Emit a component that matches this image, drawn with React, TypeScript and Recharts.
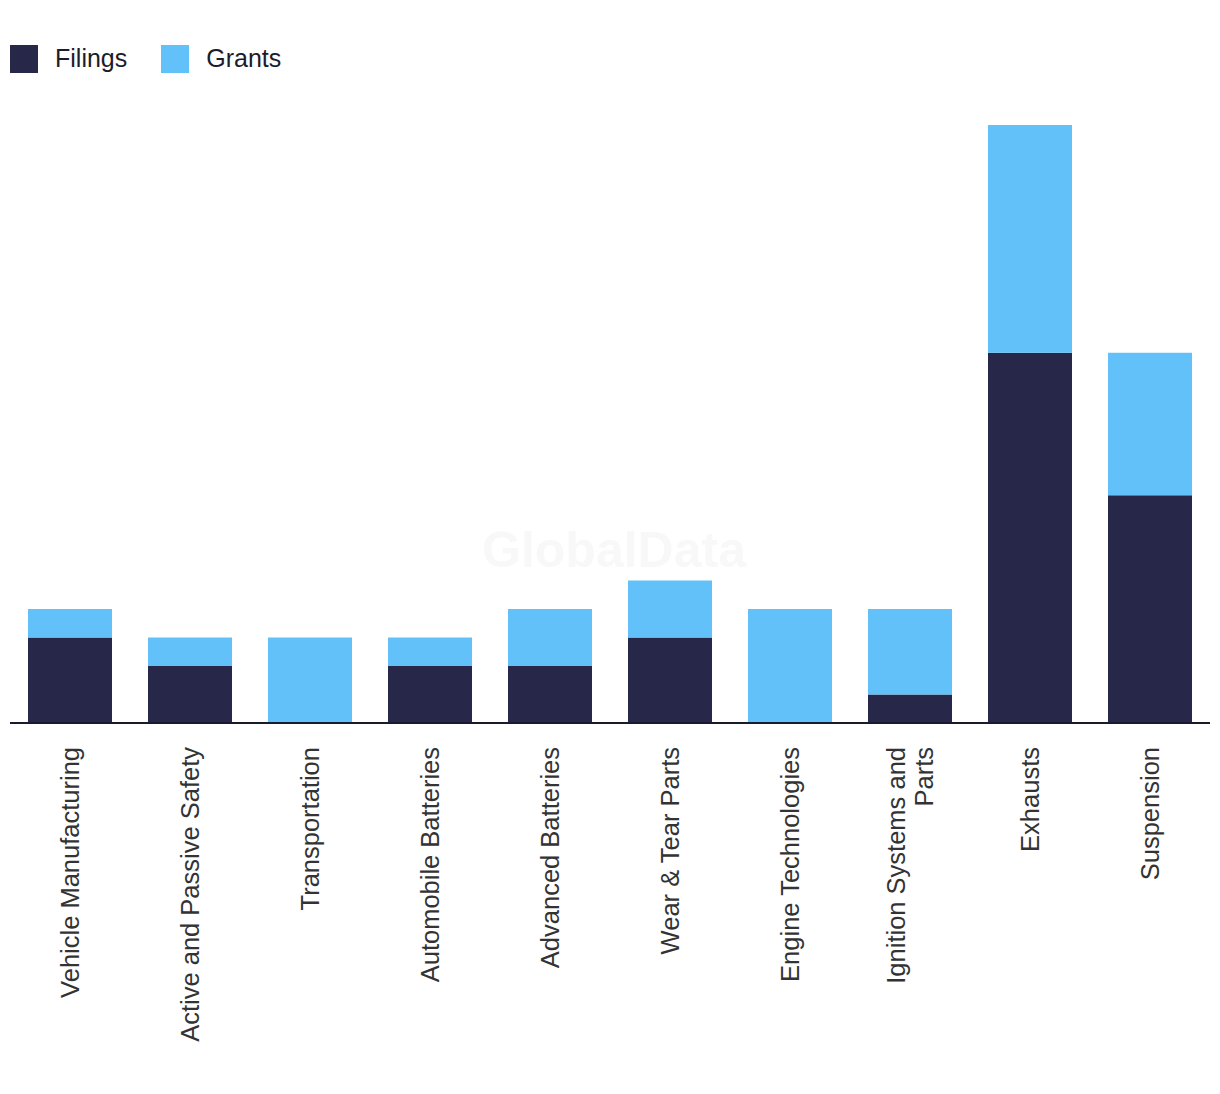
import React from "react";
import { BarChart, Bar, XAxis, YAxis, Legend } from "recharts";

const categories = [
  "Vehicle Manufacturing",
  "Active and Passive Safety",
  "Transportation",
  "Automobile Batteries",
  "Advanced Batteries",
  "Wear & Tear Parts",
  "Engine Technologies",
  "Ignition Systems and Parts",
  "Exhausts",
  "Suspension",
];
const filings = [3, 2, 0, 2, 2, 3, 0, 1, 13, 8];
const grants = [1, 1, 3, 1, 2, 2, 4, 3, 8, 5];

const FILINGS_COLOR = "#272849";
const GRANTS_COLOR = "#62C1F8";

const data = categories.map((c, i) => ({ name: c, filings: filings[i], grants: grants[i] }));

function wrap(label: string): string[] {
  if (label.length <= 25) return [label];
  const words = label.split(" ");
  const lines: string[] = [];
  let cur = "";
  for (const w of words) {
    const next = cur ? cur + " " + w : w;
    if (next.length > 21 && cur) {
      lines.push(cur);
      cur = w;
    } else cur = next;
  }
  if (cur) lines.push(cur);
  return lines;
}

const Tick = (props: any) => {
  const { x, payload } = props;
  const lines = wrap(String(payload.value));
  const lh = 28;
  const ty = 739;
  return (
    <g>
      {lines.map((l, i) => {
        const off = (i - (lines.length - 1) / 2) * lh;
        return (
          <text
            key={i}
            x={x}
            y={ty}
            transform={`rotate(-90, ${x}, ${ty})`}
            textAnchor="end"
            dy={off + 9}
            fill="#333333"
            fontSize={25.5}
            fontFamily="'Liberation Sans', Arial, sans-serif"
          >
            {l}
          </text>
        );
      })}
    </g>
  );
};

const LegendContent = () => (
  <div style={{ display: "flex", alignItems: "center", fontFamily: "'Liberation Sans', Arial, sans-serif", fontSize: 25, color: "#1c1c2c" }}>
    <span style={{ display: "inline-block", width: 28, height: 28, background: FILINGS_COLOR }} />
    <span style={{ marginLeft: 17, marginRight: 34 }}>Filings</span>
    <span style={{ display: "inline-block", width: 28, height: 28, background: GRANTS_COLOR }} />
    <span style={{ marginLeft: 17 }}>Grants</span>
  </div>
);

export default function App() {
  return (
    <div style={{ position: "relative", width: 1212, height: 1086 }}>
      <div
        style={{
          position: "absolute",
          left: 0,
          width: 1212,
          top: 513,
          textAlign: "center",
          fontFamily: "'Liberation Sans', Arial, sans-serif",
          fontWeight: 700,
          fontSize: 50,
          color: "#f8f8f8",
        }}
      >
        GlobalData
      </div>
      <BarChart
        width={1212}
        height={1086}
        data={data}
        margin={{ top: 88, right: 10, left: 2, bottom: 0 }}
        barCategoryGap="15%"
        style={{ position: "relative" }}
      >
        <XAxis
          dataKey="name"
          interval={0}
          tickLine={false}
          axisLine={{ stroke: "#1a1a2e", strokeWidth: 2 }}
          tick={<Tick />}
          height={371}
        />
        <YAxis hide domain={[0, 21]} />
        <Legend
          verticalAlign="top"
          content={<LegendContent />}
          wrapperStyle={{ position: "absolute", top: 36, left: 2 }}
        />
        <Bar dataKey="filings" stackId="a" fill={FILINGS_COLOR} isAnimationActive={false} />
        <Bar dataKey="grants" stackId="a" fill={GRANTS_COLOR} isAnimationActive={false} />
      </BarChart>
    </div>
  );
}
